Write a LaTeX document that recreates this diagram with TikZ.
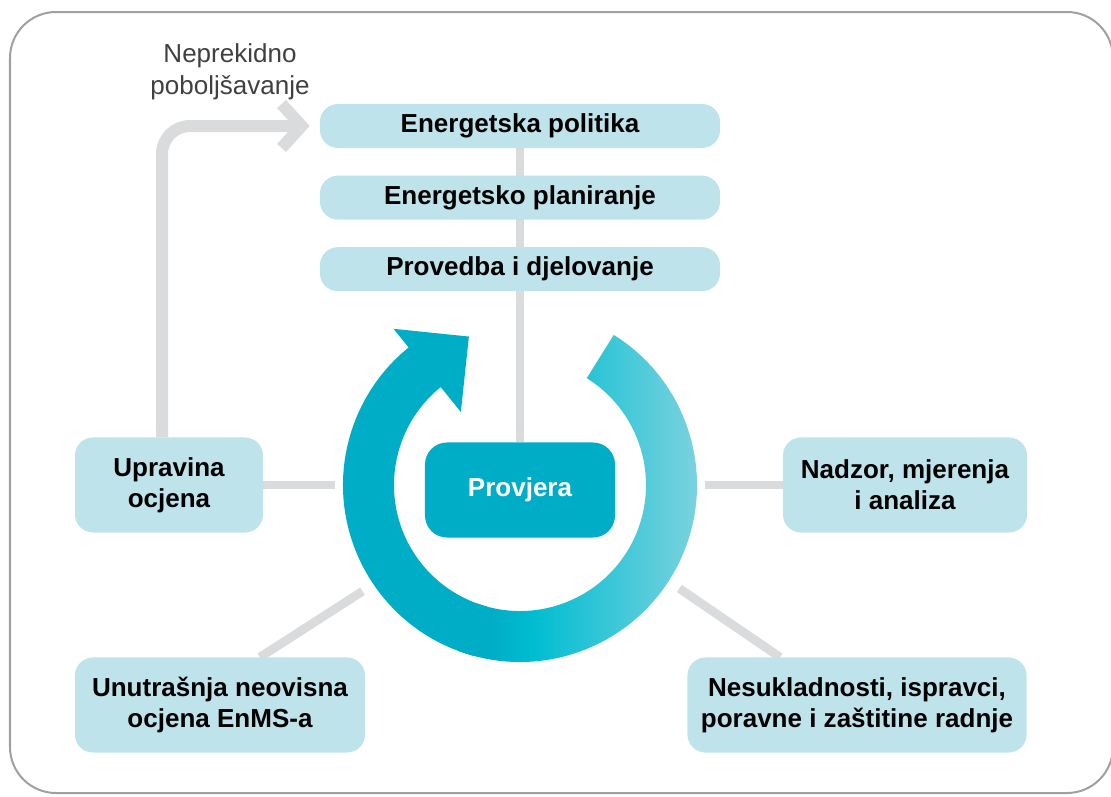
\documentclass[tikz,border=0pt]{standalone}
\usepackage{fontspec}
\setmainfont{Liberation Sans}
\usepackage{tikz}
\usetikzlibrary{positioning}
\usetikzlibrary{calc}
\usetikzlibrary{arrows.meta}
\usetikzlibrary{backgrounds}

\definecolor{boxblue}{HTML}{BEE3EB}
\definecolor{tealdark}{HTML}{00ADC6}
\definecolor{tealmid}{HTML}{00BDD1}
\definecolor{teallight}{HTML}{8DD5E0}
\definecolor{linegray}{HTML}{DADBDC}
\definecolor{framegray}{HTML}{A0A0A0}

\pgfdeclarehorizontalshading{ringshade}{100bp}{color(0bp)=(tealdark); color(31bp)=(tealdark);
  color(39bp)=(tealmid); color(75bp)=(teallight); color(100bp)=(teallight)}

\tikzset{
  stepbox/.style={fill=boxblue, rounded corners=0.45cm, align=center, inner sep=0pt,
    font=\bfseries\fontsize{18.5}{22}\selectfont},
  link/.style={draw=linegray, line width=0.22cm},
}

\begin{document}
\begin{tikzpicture}[x=0.025cm,y=-0.025cm]
        \useasboundingbox (0,0) rectangle (1111,796);
        \draw[framegray, line width=0.05cm, rounded corners=1.15cm] (10,12) rectangle (1113,793);

        % plan boxes on top
        \node[stepbox, minimum width=10cm, minimum height=1.1cm] (politika) at (520,126) {Energetska politika};
        \node[stepbox, minimum width=10cm, minimum height=1.1cm, below=0.675cm of politika] (planiranje) {Energetsko planiranje};
        \node[stepbox, minimum width=10cm, minimum height=1.1cm, below=0.675cm of planiranje] (provedba) {Provedba i djelovanje};

        \node[stepbox, fill=tealdark, text=white, minimum width=4.75cm, minimum height=2.375cm, rounded corners=0.55cm] (provjera) at (520,490) {Provjera};

        \node[stepbox, minimum width=4.7cm, minimum height=2.375cm] (upravina) at (169,485) {Upravina\\ocjena};
        \node[stepbox, minimum width=6.1cm, minimum height=2.375cm] (nadzor) at (905,485) {Nadzor, mjerenja\\i analiza};
        \node[stepbox, minimum width=7.25cm, minimum height=2.375cm] (unutrasnja) at (220,705) {Unutrašnja neovisna\\ocjena EnMS-a};
        \node[stepbox, minimum width=8.475cm, minimum height=2.375cm] (nesukladnosti) at (857,705) {Nesukladnosti, ispravci,\\poravne i zaštitine radnje};

        \node[align=center, text=black!75, font=\fontsize{18.5}{22.5}\selectfont] (neprekidno) at (230,72) {Neprekidno\\poboljšavanje};

        % the cycle
        \coordinate (c) at (520,485);
        \fill[tealdark] ($(c)+(105:177)$) arc[start angle=105, end angle=231, radius=177]
            -- ($(c)+(231:201)$) -- ($(c)+(251:157)$) -- ($(c)+(231:94)$) -- ($(c)+(231:126)$)
            arc[start angle=231, end angle=105, radius=126] -- cycle;
        \shade[shading=ringshade] ($(c)+(-58:177)$) arc[start angle=-58, end angle=110, radius=177]
            -- ($(c)+(110:126)$) arc[start angle=110, end angle=-58, radius=126] -- cycle;

        \coordinate (ringW) at ($(c)+(180:185)$);
        \coordinate (ringE) at ($(c)+(0:185)$);
        \coordinate (ringSW) at ($(c)+(146:190)$);
        \coordinate (ringSE) at ($(c)+(33:190)$);

        \begin{scope}[on background layer]
        \draw[link] (politika.south) -- (provjera.north);
        \draw[link] (upravina.east) -- (ringW);
        \draw[link] (nadzor.west) -- (ringE);
        \draw[link] ($(unutrasnja.north)+(40,0)$) -- (ringSW);
        \draw[link] ($(nesukladnosti.north)+(-77,0)$) -- (ringSE);
        \draw[link, line width=0.3cm, rounded corners=0.7cm, -{Straight Barb[length=0.5cm, width=1.1cm]}]
            ($(upravina.north)+(-7,0)$) |- ($(politika.west)+(-10,0)$);
        \end{scope}
\end{tikzpicture}
\end{document}
